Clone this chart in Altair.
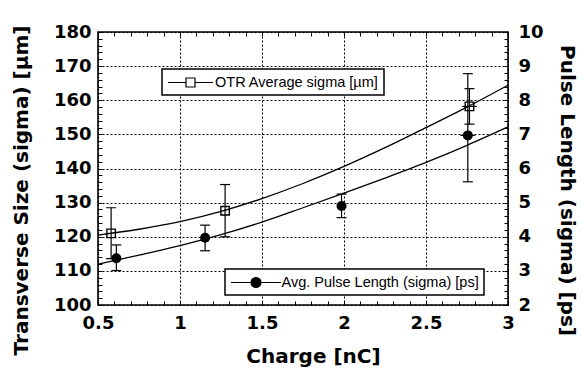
import altair as alt
import pandas as pd

# ---- data ----
otr_name = "OTR Average sigma [µm]"
pulse_name = "Avg. Pulse Length (sigma) [ps]"

otr_charge = [0.58, 1.275, 2.765]
otr_sigma = [121.0, 127.6, 158.2]
otr_lo = [113.6, 120.0, 153.0]
otr_hi = [128.5, 135.3, 163.4]
otr_xerr = [0.0, 0.0, 0.045]

pl_charge = [0.612, 1.153, 1.985, 2.755]
pl_sigma = [3.37, 3.97, 4.90, 6.97]
pl_lo = [3.01, 3.59, 4.56, 5.61]
pl_hi = [3.76, 4.34, 5.25, 8.78]
pl_xerr = [0.0, 0.0, 0.0, 0.045]

fit_charge = [0.5, 0.75, 1.0, 1.25, 1.5, 1.75, 2.0, 2.25, 2.5, 2.75, 3.0]
otr_fit = [120.5, 122.2, 124.4, 127.4, 131.2, 135.6, 140.6, 146.1, 152.0, 158.0, 164.4]
pl_fit = [3.20, 3.46, 3.74, 4.06, 4.43, 4.85, 5.28, 5.72, 6.18, 6.68, 7.22]

x_ticks = [round(0.5 + 0.1 * i, 1) for i in range(26)]
yl_ticks = list(range(100, 181, 2))
yr_ticks = [round(2 + 0.2 * i, 1) for i in range(41)]

# ---- tables ----
otr = pd.DataFrame({"x": otr_charge, "y": otr_sigma, "lo": otr_lo, "hi": otr_hi,
                    "xl": [c - e for c, e in zip(otr_charge, otr_xerr)],
                    "xh": [c + e for c, e in zip(otr_charge, otr_xerr)], "xe": otr_xerr})
pl = pd.DataFrame({"x": pl_charge, "y": pl_sigma, "lo": pl_lo, "hi": pl_hi,
                   "xl": [c - e for c, e in zip(pl_charge, pl_xerr)],
                   "xh": [c + e for c, e in zip(pl_charge, pl_xerr)], "xe": pl_xerr})
otr_fit_df = pd.DataFrame({"x": fit_charge, "y": otr_fit, "series": otr_name})
pl_fit_df = pd.DataFrame({"x": fit_charge, "y": pl_fit, "series": pulse_name})

BOLD = "DejaVu Sans"
LBL = 18
TTL = 20

major_x = "abs(datum.value*2 - round(datum.value*2)) < 0.001"
major_yl = "datum.value % 10 == 0"
major_yr = "abs(datum.value - round(datum.value)) < 0.001"

common_tick = dict(tickSize=4, tickColor="black", tickWidth=1, domain=False,
                   labelFont=BOLD, labelFontWeight="bold", labelFontSize=LBL,
                   labelColor="black", labelFlush=False, labelOverlap=False,
                   titleFont=BOLD, titleFontWeight="bold", titleFontSize=TTL,
                   titleColor="black", titleAlign="center", titleBaseline="middle")

x_bottom = alt.Axis(orient="bottom", values=x_ticks, offset=-4, format="~g",
                    labelExpr=f"{major_x} ? datum.label : ''", labelPadding=9,
                    grid=True, gridColor="black", gridDash=[2, 2], gridWidth=1,
                    gridOpacity={"condition": {"test": major_x, "value": 1}, "value": 0},
                    title="Charge [nC]", titleX=215, titleY=55, **common_tick)
y_left = alt.Axis(orient="left", values=yl_ticks, offset=-4, format="d",
                  labelExpr=f"{major_yl} ? datum.label : ''", labelPadding=7,
                  grid=True, gridColor="black", gridDash=[2, 2], gridWidth=1,
                  gridOpacity={"condition": {"test": major_yl, "value": 1}, "value": 0},
                  title="Transverse Size (sigma) [µm]", titleAngle=270,
                  titleX=-81, titleY=158, **common_tick)
x_top = alt.Axis(orient="top", values=x_ticks, offset=-4, tickSize=4, tickColor="black",
                 tickWidth=1, domain=False, labels=False, grid=False, title=None)
y_right = alt.Axis(orient="right", values=yr_ticks, offset=-4, format="~g",
                   labelExpr=f"{major_yr} ? datum.label : ''", labelPadding=10,
                   grid=False, title="Pulse Length (sigma) [ps]", titleAngle=90,
                   titleX=62, titleY=158, **common_tick)

xs = alt.Scale(domain=[0.5, 3.0], nice=False, zero=False)
yls = alt.Scale(domain=[100, 180], nice=False, zero=False)
yrs = alt.Scale(domain=[2, 10], nice=False, zero=False)

# legend glyphs: a line with a marker on it (unit = 7.5 px at symbolSize 225)
SQ_PATH = "M-3,0H-0.6M0.6,0H3M-0.6,-0.6H0.6V0.6H-0.6Z"
CI_PATH = "M-3.33,0H3.33M-0.66,0A0.66,0.66,0,1,1,0.66,0A0.66,0.66,0,1,1,-0.66,0Z"

leg_common = dict(orient="none", title=None, labelFont="Liberation Sans",
                  labelFontSize=14.5, labelColor="black", padding=5,
                  strokeColor="black", fillColor="white", labelLimit=0,
                  symbolStrokeColor="black", symbolStrokeWidth=1.2, symbolSize=225)

# ---- left (transverse size) layer ----
XA = lambda f="x": alt.X(f"{f}:Q", scale=xs, axis=x_bottom)
YA = lambda f="y": alt.Y(f"{f}:Q", scale=yls, axis=y_left)

a_fit = alt.Chart(otr_fit_df).mark_line(strokeWidth=1.3, interpolate="monotone").encode(
    x=XA(), y=YA(),
    color=alt.Color("series:N", scale=alt.Scale(range=["black"]),
                    legend=alt.Legend(legendX=64, legendY=37, symbolType=SQ_PATH,
                                      symbolOffset=15, symbolFillColor="transparent",
                                      labelOffset=16, **leg_common)))
a_err = alt.Chart(otr).mark_rule(color="black", strokeWidth=1.2).encode(
    x=XA(), y=YA("lo"), y2="hi:Q")
a_cap_lo = alt.Chart(otr).mark_tick(orient="horizontal", color="black", size=10,
                                    thickness=1.2, opacity=1).encode(x=XA(), y=YA("lo"))
a_cap_hi = alt.Chart(otr).mark_tick(orient="horizontal", color="black", size=10,
                                    thickness=1.2, opacity=1).encode(x=XA(), y=YA("hi"))
a_xerr = alt.Chart(otr).transform_filter("datum.xe > 0").mark_rule(
    color="black", strokeWidth=1.2).encode(x=XA("xl"), x2="xh:Q", y=YA())
a_pts = alt.Chart(otr).mark_point(shape="square", filled=False, size=72, color="black",
                                  strokeWidth=1.4, opacity=1).encode(x=XA(), y=YA())
left = alt.layer(a_fit, a_err, a_cap_lo, a_cap_hi, a_xerr, a_pts)

# ---- right (pulse length) layer ----
XB = lambda f="x": alt.X(f"{f}:Q", scale=xs, axis=x_top)
YB = lambda f="y": alt.Y(f"{f}:Q", scale=yrs, axis=y_right)

b_fit = alt.Chart(pl_fit_df).mark_line(strokeWidth=1.3, interpolate="monotone").encode(
    x=XB(), y=YB(),
    color=alt.Color("series:N", scale=alt.Scale(range=["black"]),
                    legend=alt.Legend(legendX=127, legendY=237, symbolType=CI_PATH,
                                      symbolOffset=17.5, symbolFillColor="black",
                                      labelOffset=17, **leg_common)))
b_err = alt.Chart(pl).mark_rule(color="black", strokeWidth=1.2).encode(
    x=XB(), y=YB("lo"), y2="hi:Q")
b_cap_lo = alt.Chart(pl).mark_tick(orient="horizontal", color="black", size=10,
                                   thickness=1.2, opacity=1).encode(x=XB(), y=YB("lo"))
b_cap_hi = alt.Chart(pl).mark_tick(orient="horizontal", color="black", size=10,
                                   thickness=1.2, opacity=1).encode(x=XB(), y=YB("hi"))
b_xerr = alt.Chart(pl).transform_filter("datum.xe > 0").mark_rule(
    color="black", strokeWidth=1.2).encode(x=XB("xl"), x2="xh:Q", y=YB())
b_pts = alt.Chart(pl).mark_circle(size=100, color="black", opacity=1).encode(x=XB(), y=YB())
right = alt.layer(b_fit, b_err, b_cap_lo, b_cap_hi, b_xerr, b_pts)

chart = (
    alt.layer(left, right)
    .resolve_scale(y="independent", color="independent")
    .resolve_axis(x="independent", y="independent")
    .resolve_legend(color="independent")
    .properties(width=410, height=273, background="white",
                autosize=alt.AutoSizeParams(type="none"),
                padding={"left": 98, "top": 32, "right": 73, "bottom": 64})
    .configure_view(stroke="black", strokeWidth=1.6)
    .configure_legend(strokeWidth=1.5)
)

chart.save("out.html", embed_options={"renderer": "svg", "actions": False})
